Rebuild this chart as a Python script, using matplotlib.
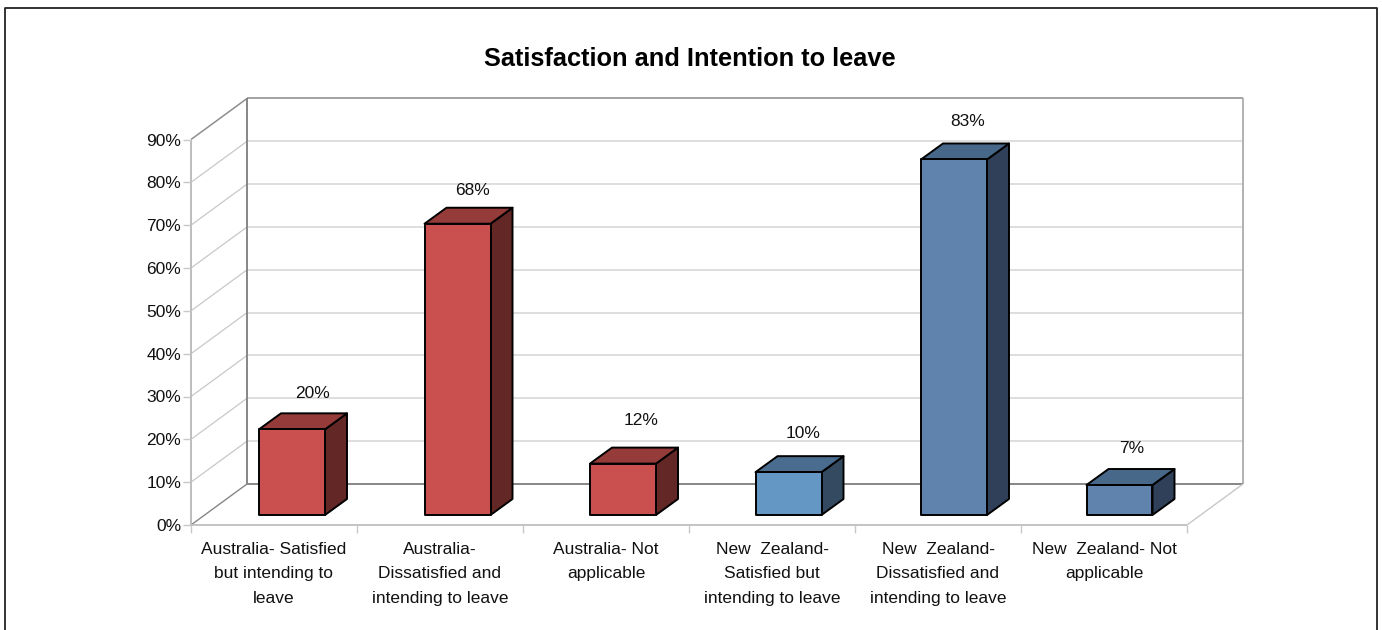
import matplotlib
matplotlib.use('Agg')
import matplotlib.pyplot as plt
from matplotlib.lines import Line2D
from matplotlib.patches import Polygon

plt.rcParams['font.family'] = ['Liberation Sans', 'DejaVu Sans']

W, H = 1382, 630

categories = ['Australia- Satisfied\nbut intending to\nleave',
              'Australia-\nDissatisfied and\nintending to leave',
              'Australia- Not\napplicable',
              'New  Zealand-\nSatisfied but\nintending to leave',
              'New  Zealand-\nDissatisfied and\nintending to leave',
              'New  Zealand- Not\napplicable']
values = [20, 68, 12, 10, 83, 7]
face_colors = ['#C9504F', '#C9504F', '#C9504F', '#6497C3', '#5F83AC', '#5F83AC']
top_colors = ['#953B3A', '#953B3A', '#953B3A', '#4A6D8F', '#48688A', '#48688A']
side_colors = ['#632726', '#632726', '#632726', '#344A61', '#2F4058', '#2F4058']
y_ticks = [0, 10, 20, 30, 40, 50, 60, 70, 80, 90]
# hand-placed data labels, pixels away from the centre of the bar's top
label_dx = [10, 4, 7, 4, 3, 1]
label_dy = [20, 17, 27, 23, 22, 21]

fig = plt.figure(figsize=(W / 100, H / 100), dpi=100, facecolor='white')
# outer chart frame, open at the bottom edge
fig.add_artist(Line2D([5 / W, 5 / W, 1377 / W, 1377 / W], [0, 1 - 8 / H, 1 - 8 / H, 0],
                      transform=fig.transFigure, color='#222222', lw=1.3))
fig.text(690 / W, 1 - 58.5 / H, 'Satisfaction and Intention to leave', ha='center', va='center',
         fontsize=18.25, fontweight='bold', color='black')

# axes rectangle is the front plane of the 3d box
ax = fig.add_axes([191 / W, 1 - 525 / H, 996 / W, 385.5 / H])
ax.set_xlim(0, 6)
ax.set_ylim(0, 90)
ax.patch.set_alpha(0)
for s in ax.spines.values():
    s.set_visible(False)

# depth of the box in data units
px_x = 1 / 166
px_y = 1 / 4.283
dx = 56 * px_x
dy = 41 * px_y

LIGHT = '#C8C8C8'
DARK = '#868686'


def line(xs, ys, color, lw=1.0, z=1):
    ax.plot(xs, ys, color=color, lw=lw, zorder=z, clip_on=False, solid_capstyle='butt')


# gridlines on back wall and side wall
for t in y_ticks[1:-1]:
    line([dx, 6 + dx], [t + dy, t + dy], '#D4D4D4', 1.1)
    line([0, dx], [t, t + dy], LIGHT, 0.9)
line([0, dx], [90, 90 + dy], '#8E8E8E', 1.1)
line([dx, 6 + dx], [90 + dy, 90 + dy], '#929292', 1.2)
line([6 + dx, 6 + dx], [dy, 90 + dy], '#A6A6A6', 1.2)
line([dx, dx], [dy, 90 + dy], DARK, 1.4)
line([dx, 6 + dx], [dy, dy], DARK, 1.4)
line([0, dx], [0, dy], DARK, 1.0)
line([0, 0], [0, 90], '#B8B8B8', 1.3)
line([0, 6], [0, 0], '#BEBEBE', 1.3)
line([6, 6 + dx], [0, dy], LIGHT, 1.0)

# bars: front face sits a quarter of the way into the box
bar_w = 66 * px_x
lift_y = 10 * px_y
bar_dx = 22 * px_x
bar_dy = 16 * px_y
pitch = 165.5 * px_x

for i, v in enumerate(values):
    x0 = 68 * px_x + i * pitch
    x1 = x0 + bar_w
    y0 = lift_y
    y1 = lift_y + v
    ec = dict(edgecolor='black', linewidth=1.4, joinstyle='round', clip_on=False, zorder=3)
    ax.add_patch(Polygon([(x1, y0), (x1 + bar_dx, y0 + bar_dy), (x1 + bar_dx, y1 + bar_dy), (x1, y1)],
                         facecolor=side_colors[i], **ec))
    ax.add_patch(Polygon([(x0, y1), (x0 + bar_dx, y1 + bar_dy), (x1 + bar_dx, y1 + bar_dy), (x1, y1)],
                         facecolor=top_colors[i], **ec))
    ax.add_patch(Polygon([(x0, y0), (x1, y0), (x1, y1), (x0, y1)], facecolor=face_colors[i], **ec))
    ax.text((x0 + x1 + bar_dx) / 2 + label_dx[i] * px_x, y1 + bar_dy + label_dy[i] * px_y, '%d%%' % v,
            ha='center', va='center', fontsize=12.5, color='#111111', zorder=4)

ax.set_yticks(y_ticks)
ax.set_yticklabels(['%d%%' % t for t in y_ticks], fontsize=12.5, color='#111111')
ax.tick_params(axis='y', length=6, width=1, color=LIGHT, pad=1)

# ticks at category boundaries, labels centred under each category
ax.set_xticks(range(7))
ax.set_xticklabels([''] * 7)
ax.tick_params(axis='x', length=6, width=1, color=LIGHT)
for i, c in enumerate(categories):
    ax.annotate(c, (i + 0.5, 0), xytext=(0, -17), textcoords='offset pixels', ha='center', va='top',
                fontsize=12.5, color='#111111', linespacing=1.78, annotation_clip=False)

fig.savefig('out.png', dpi=100)
